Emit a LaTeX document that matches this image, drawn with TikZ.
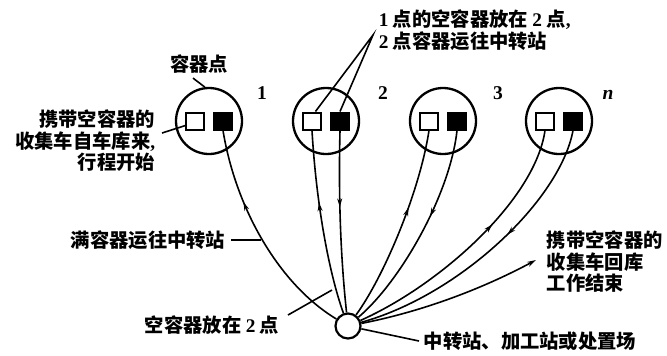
\documentclass[tikz,border=0pt]{standalone}
\usepackage{fontspec}
\setmainfont{Noto Sans CJK SC}
\newfontfamily\lat{Liberation Serif}
\usetikzlibrary{arrows.meta,decorations.markings}
\begin{document}
\begin{tikzpicture}[x=1bp,y=-1bp, line width=1.6bp,
  bigc/.style={circle, draw, line width=2.3bp, minimum size=66bp, inner sep=0pt},
  wsq/.style={draw, line width=2bp, minimum width=18bp, minimum height=17bp, inner sep=0pt, fill=white},
  bsq/.style={wsq, fill=black},
  stc/.style={circle, draw, line width=2.2bp, minimum size=25bp, inner sep=0pt},
  txt/.style={font=\bfseries\fontsize{19.3bp}{21.5bp}\selectfont, inner sep=1bp},
  num/.style={font=\lat\bfseries\fontsize{19.5bp}{21bp}\selectfont, inner sep=0pt},
  upar/.style={postaction=decorate, decoration={markings, mark=at position #1 with {\arrowreversed{Stealth[length=8.5bp,width=5bp]}}}},
  dnar/.style={postaction=decorate, decoration={markings, mark=at position #1 with {\arrow{Stealth[length=8.5bp,width=5bp]}}}},
  conn/.style={line width=1.6bp}
]
\useasboundingbox (0,0) rectangle (667,355);

% container points
\foreach \i/\cx in {1/209, 2/326, 3/443, n/559}{
  \node[bigc] (c\i) at (\cx,121) {};
  \node[wsq] (w\i) at (\cx-14,121) {};
  \node[bsq] (b\i) at (\cx+14,121) {};
}
\node[num] (n1) at (262,93) {1};
\node[num] (n2) at (383,93) {2};
\node[num] (n3) at (498,93) {3};
\node[num, font=\lat\bfseries\itshape\fontsize{19.5bp}{21bp}\selectfont] (nn) at (608,95) {n};

% station
\node[stc] (st) at (348,326) {};

% curves
\draw[conn, upar=0.33] (b1.south) .. controls (236,210) and (280,285) .. (st);
\draw[conn, upar=0.39] (w2.south) .. controls (316,200) and (328,270) .. (st);
\draw[conn, dnar=0.42] (b2.south) .. controls (338,210) and (342,270) .. (st);
\draw[conn, upar=0.40] (w3.south) .. controls (420,190) and (385,275) .. (st);
\draw[conn, dnar=0.42] (b3.south) .. controls (450,195) and (400,282) .. (st);
\draw[conn, upar=0.40] (wn.south) .. controls (535,200) and (440,285) .. (st);
\draw[conn, dnar=0.42] (bn.south) .. controls (560,200) and (460,295) .. (st);
\coordinate (e8) at (536,260);
\draw[conn, -{Stealth[length=9bp,width=5bp]}] (st) .. controls (420,312) and (480,290) .. (e8);

% labels
\node[txt] (lpt) at (199,64) {容器点};
\draw[conn] ([xshift=-6bp,yshift=-3bp]lpt.south) -- (c1.97);

\node[txt, align=right, anchor=east] (lstart) at (157,141) {携带空容器的\\收集车自车库来{\lat\bfseries ,}\\行程开始};
\draw[conn] (162,133) -- (w1.205);

\node[txt, align=left, anchor=west] (ltop) at (377,30) {{\lat 1} 点的空容器放在 {\lat 2} 点{\lat\bfseries ,}\\{\lat 2} 点容器运往中转站};
\coordinate (apex) at (373,35);
\draw[conn] (w2.70) -- (apex) -- (b2.north);

\node[txt, anchor=east] (lfull) at (227,240) {满容器运往中转站};
\coordinate (m1) at (261,240);
\draw[conn] ([xshift=4bp]lfull.east) -- (m1);

\node[txt, anchor=east] (lempty) at (281,325) {空容器放在 {\lat 2} 点};
\coordinate (m2) at (332,290);
\draw[conn] (288,315) -- (m2);

\node[txt, align=left, anchor=north west] (lend) at (545,229) {携带空容器的\\收集车回库\\工作结束};

\node[txt, anchor=west] (lsta) at (422,341) {中转站、加工站或处置场};
\draw[conn] (st) -- ([xshift=-3bp]lsta.west);
\end{tikzpicture}
\end{document}
